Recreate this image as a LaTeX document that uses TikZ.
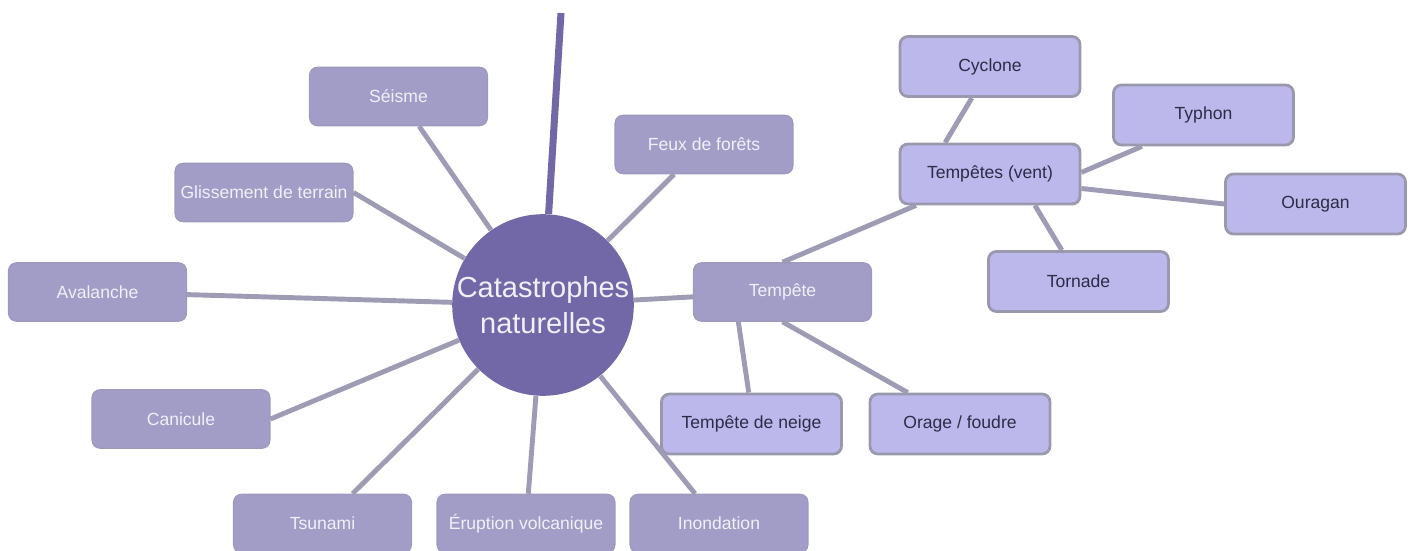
\documentclass[tikz,border=0pt]{standalone}
\usepackage{fontspec}
\setmainfont{Liberation Sans}
\usetikzlibrary{positioning}
\definecolor{hub}{HTML}{7268A8}
\definecolor{leaf}{HTML}{A19DC7}
\definecolor{subleaf}{HTML}{BDB8EB}
\definecolor{wire}{HTML}{9E9CB5}
\definecolor{rim}{HTML}{9A98AD}
\definecolor{ink}{HTML}{2D2B48}
\definecolor{pale}{HTML}{F1EFF8}

\begin{document}
\begin{tikzpicture}[x=0.02cm,y=-0.02cm,
    l/.style={fill=leaf,draw=leaf!85!gray,line width=0.6pt,rounded corners=4.5pt,minimum width=3.56cm,minimum height=1.17cm,text=pale,font=\fontsize{10}{12}\selectfont,inner sep=1pt},%
    sl/.style={fill=subleaf,draw=rim,line width=1.6pt,rounded corners=4.5pt,minimum width=3.6cm,minimum height=1.2cm,text=ink,font=\fontsize{10}{12}\selectfont,inner sep=1pt},%
    w/.style={wire,line width=2.8pt}]
    \useasboundingbox (0,0) rectangle (1414,551);
    % centre
    \node[circle,fill=hub,minimum size=3.56cm,inner sep=0pt,text=pale,align=center,font=\fontsize{16.5}{20.5}\selectfont] (cat) at (543,305) {Catastrophes\\naturelles} ;
    \coordinate (top) at (561,13) ;
    \draw[hub,line width=4pt] (cat) -- (top) ;
    % premier niveau
    \node[l] (seisme) at (398.5,96.5) {Séisme} ;
    \node[l] (gliss) at (264,192.5) {Glissement de terrain} ;
    \node[l] (aval) at (97.5,292) {Avalanche} ;
    \node[l] (canic) at (181,419) {Canicule} ;
    \node[l] (tsun) at (322.5,523.5) {Tsunami} ;
    \node[l] (erup) at (526,523.5) {Éruption volcanique} ;
    \node[l] (inond) at (719,523.5) {Inondation} ;
    \node[l] (feux) at (704,144.5) {Feux de forêts} ;
    \node[l] (temp) at (782.5,292) {Tempête} ;
    % second niveau
    \node[sl] (neige) at (751.5,424) {Tempête de neige} ;
    \node[sl] (orage) at (960,424) {Orage / foudre} ;
    \node[sl] (vent) at (990,174) {Tempêtes (vent)} ;
    \node[sl] (cycl) at (990,66.5) {Cyclone} ;
    \node[sl] (typh) at (1203.5,115) {Typhon} ;
    \node[sl] (oura) at (1315.5,204) {Ouragan} ;
    \node[sl] (torn) at (1078.5,281.5) {Tornade} ;
    % liens
    \draw[w] (cat) -- (seisme) ;
    \draw[w] (cat) -- (gliss.east) ;
    \draw[w] (cat) -- (aval) ;
    \draw[w] (cat) -- (canic.east) ;
    \draw[w] (cat) -- (tsun) ;
    \draw[w] (cat) -- (erup) ;
    \draw[w] (cat) -- (inond) ;
    \draw[w] (cat) -- (feux) ;
    \draw[w] (cat) -- (temp) ;
    \draw[w] (temp.214) -- (neige.95) ;
    \draw[w] (temp.south) -- (orage.149) ;
    \draw[w] (temp.north) -- (vent.203) ;
    \draw[w] (vent.145) -- (cycl.240) ;
    \draw[w] (vent.1) -- (typh.207) ;
    \draw[w] (vent.351) -- (oura.west) ;
    \draw[w] (vent.325) -- (torn.118) ;
\end{tikzpicture}
\end{document}
